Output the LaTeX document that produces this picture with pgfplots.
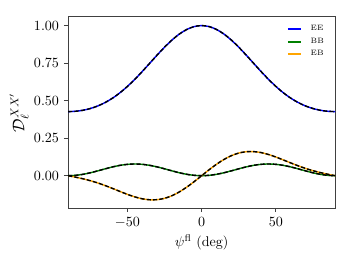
\documentclass[border=0pt]{standalone}
\usepackage{pgfplots}
\pgfplotsset{compat=1.18}
\definecolor{mblue}{RGB}{0,0,255}
\definecolor{mgreen}{RGB}{0,128,0}
\definecolor{morange}{RGB}{255,165,0}
\begin{document}
\begin{tikzpicture}
\begin{axis}[
  scale only axis,
  width=190pt, height=136pt,
  xmin=-90, xmax=90, ymin=-0.215, ymax=1.058,
  xtick={-50,0,50}, ytick={0,0.25,0.5,0.75,1},
  yticklabel style={/pgf/number format/.cd, fixed, fixed zerofill, precision=2},
  tick align=outside, tick pos=left,
  major tick length=3pt,
  axis line style={black!75, line width=0.6pt},
  tick style={black!75, line width=0.5pt},
  xlabel={$\psi^{\mathrm{fl}}$ (deg)},
  ylabel={$\mathcal{D}_\ell^{XX'}$},
  ylabel style={font=\large, yshift=-3pt},
  xlabel style={yshift=2pt},
  legend style={draw=none, fill=none, at={(0.985,0.985)}, anchor=north east, font=\fontsize{5.5}{6.5}\selectfont, row sep=-0.5pt},
  legend cell align=left,
  legend image code/.code={\draw[#1, line width=1.3pt] (0pt,0pt) -- (9.5pt,0pt);},
]
\addplot[mblue, line width=1pt, smooth] coordinates {
(-90,0.4268)(-85,0.4291)(-80,0.4358)(-75,0.4476)(-70,0.4646)(-65,0.4877)(-60,0.5170)(-55,0.5530)(-50,0.5951)(-45,0.6427)(-40,0.6945)(-35,0.7490)(-30,0.8036)(-25,0.8561)(-20,0.9036)(-15,0.9438)(-10,0.9742)(-5,0.9933)(0,1.0000)
(5,0.9933)(10,0.9742)(15,0.9438)(20,0.9036)(25,0.8561)(30,0.8036)(35,0.7490)(40,0.6945)(45,0.6427)(50,0.5951)(55,0.5530)(60,0.5170)(65,0.4877)(70,0.4646)(75,0.4476)(80,0.4358)(85,0.4291)(90,0.4268)};
\addlegendentry{\hspace{4pt}EE}
\addplot[mgreen, line width=1pt, smooth] coordinates {
(-90,0)(-85,0.0023)(-80,0.0091)(-75,0.0195)(-70,0.0322)(-65,0.0458)(-60,0.0585)(-55,0.0689)(-50,0.0756)(-45,0.0780)(-40,0.0756)(-35,0.0689)(-30,0.0585)(-25,0.0458)(-20,0.0322)(-15,0.0195)(-10,0.0091)(-5,0.0023)(0,0)
(5,0.0023)(10,0.0091)(15,0.0195)(20,0.0322)(25,0.0458)(30,0.0585)(35,0.0689)(40,0.0756)(45,0.0780)(50,0.0756)(55,0.0689)(60,0.0585)(65,0.0458)(70,0.0322)(75,0.0195)(80,0.0091)(85,0.0023)(90,0)};
\addlegendentry{\hspace{4pt}BB}
\addplot[morange, line width=1pt, smooth] coordinates {
(-90,0)(-85,-0.0098)(-80,-0.0207)(-75,-0.0335)(-70,-0.0485)(-65,-0.0660)(-60,-0.0852)(-55,-0.1052)(-50,-0.1246)(-45,-0.1414)(-40,-0.1540)(-35,-0.1605)(-30,-0.1597)(-25,-0.1507)(-20,-0.1332)(-15,-0.1079)(-10,-0.0760)(-5,-0.0393)(0,0)
(5,0.0393)(10,0.0760)(15,0.1079)(20,0.1332)(25,0.1507)(30,0.1597)(35,0.1605)(40,0.1540)(45,0.1414)(50,0.1246)(55,0.1052)(60,0.0852)(65,0.0660)(70,0.0485)(75,0.0335)(80,0.0207)(85,0.0098)(90,0)};
\addlegendentry{\hspace{4pt}EB}
\addplot[black, line width=1pt, dash pattern=on 3pt off 1.5pt, smooth, forget plot] coordinates {
(-90,0.4268)(-85,0.4291)(-80,0.4358)(-75,0.4476)(-70,0.4646)(-65,0.4877)(-60,0.5170)(-55,0.5530)(-50,0.5951)(-45,0.6427)(-40,0.6945)(-35,0.7490)(-30,0.8036)(-25,0.8561)(-20,0.9036)(-15,0.9438)(-10,0.9742)(-5,0.9933)(0,1.0000)
(5,0.9933)(10,0.9742)(15,0.9438)(20,0.9036)(25,0.8561)(30,0.8036)(35,0.7490)(40,0.6945)(45,0.6427)(50,0.5951)(55,0.5530)(60,0.5170)(65,0.4877)(70,0.4646)(75,0.4476)(80,0.4358)(85,0.4291)(90,0.4268)};
\addplot[black, line width=1pt, dash pattern=on 3pt off 1.5pt, smooth, forget plot] coordinates {
(-90,0)(-85,0.0023)(-80,0.0091)(-75,0.0195)(-70,0.0322)(-65,0.0458)(-60,0.0585)(-55,0.0689)(-50,0.0756)(-45,0.0780)(-40,0.0756)(-35,0.0689)(-30,0.0585)(-25,0.0458)(-20,0.0322)(-15,0.0195)(-10,0.0091)(-5,0.0023)(0,0)
(5,0.0023)(10,0.0091)(15,0.0195)(20,0.0322)(25,0.0458)(30,0.0585)(35,0.0689)(40,0.0756)(45,0.0780)(50,0.0756)(55,0.0689)(60,0.0585)(65,0.0458)(70,0.0322)(75,0.0195)(80,0.0091)(85,0.0023)(90,0)};
\addplot[black, line width=1pt, dash pattern=on 3pt off 1.5pt, smooth, forget plot] coordinates {
(-90,0)(-85,-0.0098)(-80,-0.0207)(-75,-0.0335)(-70,-0.0485)(-65,-0.0660)(-60,-0.0852)(-55,-0.1052)(-50,-0.1246)(-45,-0.1414)(-40,-0.1540)(-35,-0.1605)(-30,-0.1597)(-25,-0.1507)(-20,-0.1332)(-15,-0.1079)(-10,-0.0760)(-5,-0.0393)(0,0)
(5,0.0393)(10,0.0760)(15,0.1079)(20,0.1332)(25,0.1507)(30,0.1597)(35,0.1605)(40,0.1540)(45,0.1414)(50,0.1246)(55,0.1052)(60,0.0852)(65,0.0660)(70,0.0485)(75,0.0335)(80,0.0207)(85,0.0098)(90,0)};
\end{axis}
\path (current axis.south west) ++(-48.5pt,-40pt) (current axis.north east) ++(12pt,12pt);
\end{tikzpicture}
\end{document}
